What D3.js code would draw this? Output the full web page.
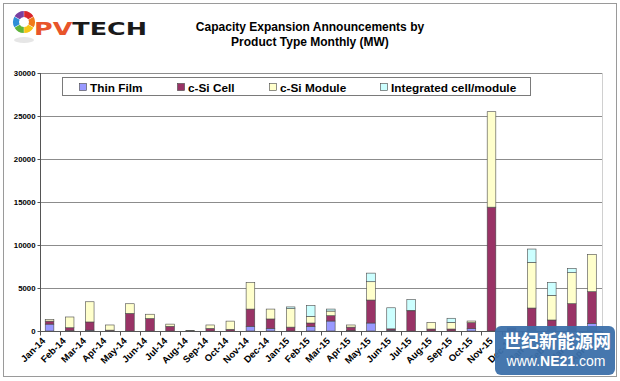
<!DOCTYPE html>
<html><head><meta charset="utf-8">
<script src="https://cdn.jsdelivr.net/npm/d3@7"></script>
<style>
html,body{margin:0;padding:0;background:#fff;}
svg{display:block;font-family:"Liberation Sans",Arial,sans-serif;}
</style></head>
<body><svg id="c" width="620" height="381"></svg>
<script>
const months = ["Jan-14","Feb-14","Mar-14","Apr-14","May-14","Jun-14","Jul-14","Aug-14","Sep-14","Oct-14","Nov-14","Dec-14",
"Jan-15","Feb-15","Mar-15","Apr-15","May-15","Jun-15","Jul-15","Aug-15","Sep-15","Oct-15","Nov-15","Dec-15",
"Jan-16","Feb-16","Mar-16","Apr-16"];
const thinFilm   = [800,30,100,0,0,0,0,0,0,0,550,300, 0,540,1160,50,930,100,0,0,0,270,0,100, 0,0,0,890];
const cSiCell    = [350,350,950,100,2050,1450,550,0,300,200,2000,1100, 450,390,620,400,2670,150,2350,230,230,700,14400,250, 2670,1280,3180,3680];
const cSiModule  = [200,1250,2350,600,1120,500,250,80,400,950,3100,1150, 2150,780,540,250,2130,0,50,780,780,190,11100,0, 5310,2870,3600,4340];
const integrated = [0,0,0,0,0,0,0,0,0,0,0,0, 200,1240,230,0,1000,2450,1250,0,470,0,0,0, 1550,1510,500,0];
const seriesNames = ["Thin Film","c-Si Cell","c-Si Module","Integrated cell/module"];
const seriesColors = ["#9999FF","#993366","#FFFFCC","#CCFFFF"];
const yTicks = [0,5000,10000,15000,20000,25000,30000];

const svg = d3.select("#c");
// outer frame
svg.append("rect").attr("x",3.5).attr("y",3.5).attr("width",613).attr("height",373)
  .attr("fill","#fff").attr("stroke","#9a9a9a").attr("stroke-width",1);

// logo
const logo = svg.append("g").attr("transform","translate(24,22)");
const ringCols = ["#d9262b","#f07a1a","#f6c515","#5fb43a","#2e8fd6","#7a3fa0"];
const arc = d3.arc().innerRadius(5).outerRadius(11);
const pie = d3.pie().sort(null).value(1).padAngle(0.03)(ringCols);
logo.selectAll("path").data(pie).join("path").attr("d",arc).attr("fill",(d,i)=>ringCols[i]);
svg.append("ellipse").attr("cx",24).attr("cy",40).attr("rx",10).attr("ry",3).attr("fill","#e6e6e6");
const lt = svg.append("text").attr("x",34).attr("y",35).attr("font-size",17).attr("font-weight","900")
  .attr("font-family","'DejaVu Sans',sans-serif").attr("textLength",113).attr("lengthAdjust","spacingAndGlyphs");
lt.append("tspan").attr("fill","#e8552b").text("PV");
lt.append("tspan").attr("fill","#1a1a1a").text("TECH");

// title
svg.append("text").attr("x",310).attr("y",31).attr("text-anchor","middle").attr("font-size",12).attr("font-weight","bold").text("Capacity Expansion Announcements by");
svg.append("text").attr("x",310).attr("y",46).attr("text-anchor","middle").attr("font-size",12).attr("font-weight","bold").text("Product Type Monthly (MW)");

const x = d3.scaleBand().domain(months).range([39.5,602]).paddingInner(0.57).paddingOuter(0.285);
const y = d3.scaleLinear().domain([0,30000]).range([331,73]);

// grid
svg.append("g").selectAll("line").data(yTicks.filter(d=>d>0)).join("line")
  .attr("x1",40).attr("x2",602).attr("y1",d=>Math.round(y(d))+0.5).attr("y2",d=>Math.round(y(d))+0.5)
  .attr("stroke","#8c8c8c").attr("stroke-width",1);
svg.append("line").attr("x1",602.5).attr("x2",602.5).attr("y1",73).attr("y2",331).attr("stroke","#d0d0d0");

// stacked data
const table = months.map((m,i)=>({m, s0:thinFilm[i], s1:cSiCell[i], s2:cSiModule[i], s3:integrated[i]}));
const stack = d3.stack().keys(["s0","s1","s2","s3"])(table);
svg.append("g").selectAll("g").data(stack).join("g").attr("fill",(d,i)=>seriesColors[i])
  .selectAll("rect").data(d=>d.filter(p=>p[1]-p[0]>0)).join("rect")
  .attr("x",d=>x(d.data.m)).attr("width",x.bandwidth())
  .attr("y",d=>y(d[1])).attr("height",d=>y(d[0])-y(d[1]))
  .attr("stroke","#4a4a4a").attr("stroke-width",0.6);

// y axis
const ya = svg.append("g").attr("transform","translate(40.5,0)")
  .call(d3.axisLeft(y).tickValues(yTicks).tickSize(3).tickFormat(d3.format("d")));
ya.select(".domain").attr("stroke","#555").attr("d","M0,73V331");
ya.selectAll(".tick line").attr("stroke","#555");
ya.selectAll(".tick text").attr("font-size",7.8).attr("font-weight","bold").attr("fill","#000")
  .attr("font-family","'Liberation Sans',Arial,sans-serif").attr("x",-5);

// x axis
const xa = svg.append("g").attr("transform","translate(0,331.5)");
xa.append("line").attr("x1",40).attr("x2",602).attr("stroke","#555");
const bounds = months.map((m,i)=>x(m)-x.step()*x.paddingInner()/2).concat([602]);
xa.selectAll("line.tk").data(bounds).join("line").attr("class","tk")
  .attr("x1",d=>Math.round(d)+0.5).attr("x2",d=>Math.round(d)+0.5).attr("y1",0).attr("y2",4).attr("stroke","#555");
xa.selectAll("text").data(months).join("text")
  .attr("transform",(d,i)=>`translate(${x(d)+x.bandwidth()/2-3.5+i*0.25},${10}) rotate(-45)`)
  .attr("text-anchor","end").attr("font-size",9.5).attr("font-weight","bold").text(d=>d);

// legend
const lg = svg.append("g");
lg.append("rect").attr("x",62.5).attr("y",77.5).attr("width",468).attr("height",18).attr("fill","#fff").attr("stroke","#7a7a7a");
const lx = [79,177,269,380];
seriesNames.forEach((n,i)=>{
  lg.append("rect").attr("x",lx[i]+0.5).attr("y",83.5).attr("width",7).attr("height",7).attr("fill",seriesColors[i]).attr("stroke","#444").attr("stroke-width",0.6);
  lg.append("text").attr("x",lx[i]+11).attr("y",91.5).attr("font-size",11.8).attr("font-weight","bold").text(n);
});

// watermark
const wm = svg.append("g");
wm.append("rect").attr("x",495).attr("y",326).attr("width",120).attr("height",49).attr("rx",6).attr("fill","#3c70aa").attr("opacity",0.95);
wm.append("text").attr("x",557).attr("y",348).attr("text-anchor","middle").attr("fill","#fff").attr("font-size",18).attr("font-weight","bold")
  .attr("font-family","'Noto Sans CJK SC',sans-serif").text("世纪新能源网");
const w2 = wm.append("text").attr("x",556).attr("y",366).attr("text-anchor","middle").attr("fill","#fff").attr("font-size",14);
w2.append("tspan").text("www.");
w2.append("tspan").attr("font-weight","bold").text("NE21");
w2.append("tspan").text(".com");
</script></body></html>
